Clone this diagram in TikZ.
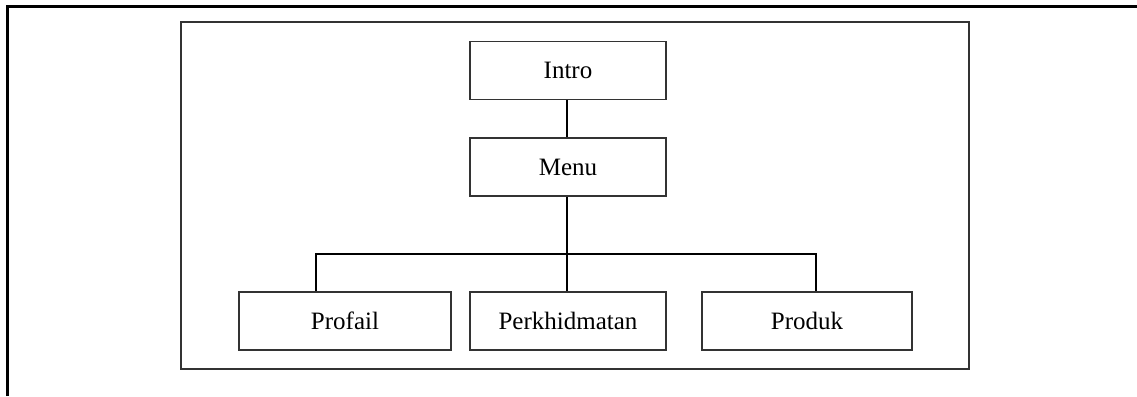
\documentclass[tikz,border=0pt]{standalone}
\usepackage{fontspec}
\setmainfont{Liberation Serif}
\begin{document}
\begin{tikzpicture}[x=1pt,y=-1pt,
  box/.style={draw=black!80, line width=1.8pt, inner sep=0pt, minimum height=58pt, font=\fontsize{25}{30}\selectfont},
  conn/.style={draw=black, line width=1.5pt},
  frame/.style={draw=black!80, line width=1.8pt}]
\useasboundingbox (0,0) rectangle (1137,396);
% outer border (top and left only)
\draw[line width=3pt] (7,396) -- (7,7) -- (1137,7);
% inner frame
\draw[frame] (181,22) rectangle (969,369);
% boxes
\node[box, minimum width=196pt] (intro) at (568,70.5) {Intro};
\node[box, minimum width=196pt] (menu) at (568,167) {Menu};
\node[box, minimum width=212pt] (profail) at (345,321) {Profail};
\node[box, minimum width=196pt] (perk) at (568,321) {Perkhidmatan};
\node[box, minimum width=210pt] (produk) at (807,321) {Produk};
% connectors
\coordinate (bl) at (316,254);
\coordinate (br) at (816,254);
\draw[conn] (intro.south -| 567,0) -- (menu.north -| 567,0);
\draw[conn] (menu.south -| 567,0) -- (perk.north -| 567,0);
\draw[conn] (profail.north -| bl) -- (bl) -- (br) -- (produk.north -| br);
\end{tikzpicture}
\end{document}
